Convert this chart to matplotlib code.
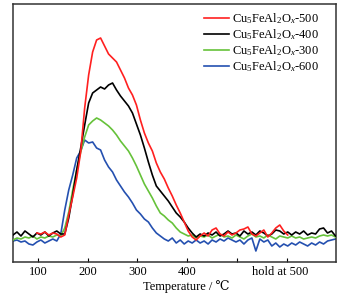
import numpy as np
import matplotlib
matplotlib.use("Agg")
import matplotlib.pyplot as plt
import matplotlib.transforms as mtransforms

plt.rcParams['font.family'] = ['Liberation Serif', 'DejaVu Serif']
plt.rcParams['mathtext.fontset'] = 'custom'
plt.rcParams['mathtext.rm'] = 'Liberation Serif'
plt.rcParams['mathtext.it'] = 'Liberation Serif:italic'

# temperature grid (deg C, axis coordinate)
temp_full = np.arange(50, 699, 8)
temp_red = np.arange(98, 603, 8)

red_500 = [29, 28, 30, 27, 29, 28, 25, 27, 47, 65, 84, 110, 154, 187, 210, 222, 224,
           216, 208, 204, 200, 192, 184, 174, 167, 157, 142, 129, 119, 111, 99, 90,
           83, 74, 66, 57, 49, 40, 31, 25, 22, 26, 29, 26, 32, 34, 28, 26, 30, 27,
           29, 32, 33, 35, 28, 26, 29, 32, 25, 29, 34, 37, 31, 27]

black_400 = [27, 30, 26, 31, 28, 25, 29, 27, 30, 26, 29, 31, 28, 28, 44, 67, 92, 114,
             137, 159, 169, 172, 175, 173, 177, 179, 172, 166, 161, 156, 149, 138,
             127, 114, 100, 87, 76, 71, 66, 61, 55, 49, 45, 40, 34, 29, 25, 28, 26,
             29, 27, 30, 26, 28, 31, 28, 29, 26, 31, 28, 30, 27, 31, 29, 26, 28, 32,
             31, 28, 30, 27, 30, 28, 31, 27, 29, 28, 33, 34, 29, 31, 26]

green_300 = [22, 24, 23, 25, 24, 26, 23, 25, 24, 26, 25, 27, 26, 34, 50, 72, 92, 110,
             125, 137, 141, 144, 142, 139, 136, 132, 127, 121, 116, 111, 104, 96, 87,
             78, 71, 64, 56, 49, 46, 42, 39, 34, 30, 28, 26, 27, 24, 26, 25, 27, 24,
             26, 28, 25, 26, 24, 27, 25, 23, 26, 28, 25, 26, 24, 27, 25, 23, 26, 25,
             24, 26, 24, 25, 23, 24, 25, 24, 26, 27, 26, 27, 25]

blue_600 = [21, 22, 20, 21, 18, 17, 20, 22, 19, 21, 23, 21, 28, 52, 72, 87, 104, 111,
            122, 119, 120, 114, 112, 102, 95, 90, 82, 76, 70, 65, 59, 52, 48, 43, 40,
            34, 29, 26, 23, 21, 24, 19, 22, 18, 21, 19, 22, 19, 21, 18, 22, 20, 23,
            21, 24, 22, 20, 22, 18, 22, 24, 11, 23, 20, 22, 16, 19, 15, 18, 16, 19,
            17, 20, 18, 16, 19, 17, 20, 18, 21, 22, 23]

labels = [r'Cu$_5$FeAl$_2$O$_x$-500', r'Cu$_5$FeAl$_2$O$_x$-400',
          r'Cu$_5$FeAl$_2$O$_x$-300', r'Cu$_5$FeAl$_2$O$_x$-600']
tick_pos = [100, 200, 300, 400, 500, 600]
tick_labels = ['100', '200', '300', '400', '', 'hold at 500']

fig = plt.figure(figsize=(3.49, 2.94), dpi=100)
ax = fig.add_axes([13/349, 1-262/294, 323/349, 258/294])

ax.plot(temp_red, red_500, color='#ff2020', lw=1.2, label=labels[0], zorder=5)
ax.plot(temp_full, black_400, color='#000000', lw=1.2, label=labels[1], zorder=4)
ax.plot(temp_full, green_300, color='#66c23a', lw=1.2, label=labels[2], zorder=3)
ax.plot(temp_full, blue_600, color='#2450b0', lw=1.2, label=labels[3], zorder=2)

ax.set_xlim(50, 699)
ax.set_ylim(0, 258)
ax.set_yticks([])
ax.set_xticks(tick_pos)
ax.set_xticklabels(tick_labels)
ax.tick_params(axis='x', direction='in', length=3, width=0.8, labelsize=9, pad=3)
for s in ax.spines.values():
    s.set_linewidth(1.1)
    s.set_color('#333333')

# the "hold at 500" label sits slightly left of its tick
hold_lbl = ax.get_xticklabels()[-1]
hold_lbl.set_transform(hold_lbl.get_transform() +
                       mtransforms.ScaledTranslation(-7/100, 0, fig.dpi_scale_trans))

ax.set_xlabel('Temperature / ℃', fontsize=9, labelpad=0)
ax.xaxis.set_label_coords(0.536, -0.07)

leg = ax.legend(loc='upper left', frameon=False, fontsize=9, handlelength=2.0,
                handletextpad=0.25, labelspacing=0.1, borderaxespad=0.0,
                borderpad=0.0, bbox_to_anchor=(0.591, 0.972))

fig.savefig('out.png', dpi=100)
